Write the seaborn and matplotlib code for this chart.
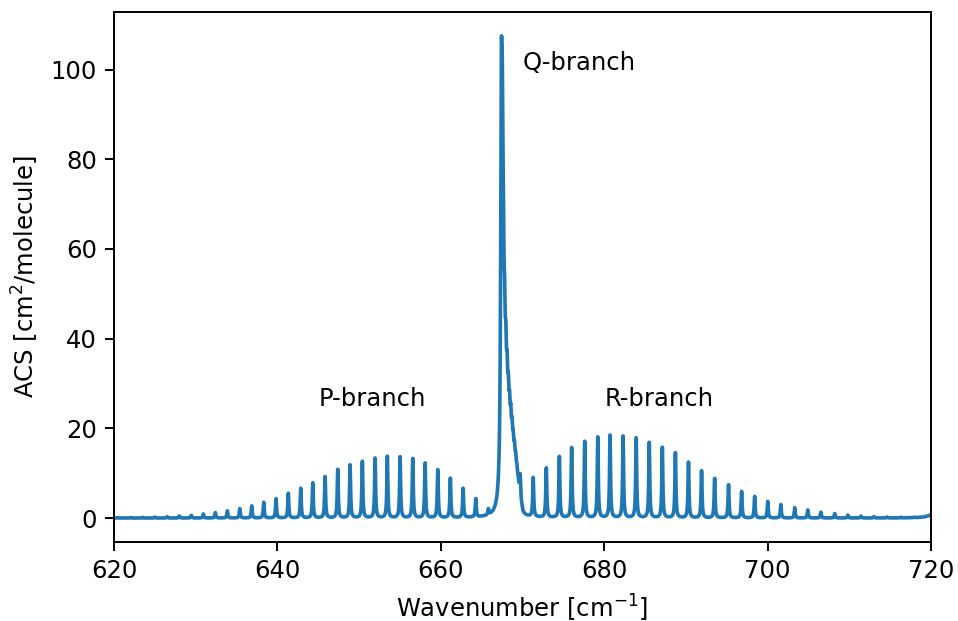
import numpy as np
import pandas as pd
import matplotlib
matplotlib.use("Agg")
import matplotlib.pyplot as plt
import seaborn as sns

# ---- data (line centres [cm-1] and peak heights) ----
p_centers = [665.81, 664.27, 662.72, 661.16, 659.62, 658.07, 656.56, 655.01,
             653.45, 651.95, 650.39, 648.89, 647.38, 645.83, 644.32, 642.85,
             641.33, 639.83, 638.32, 636.85, 635.39, 633.87, 632.40, 630.93,
             629.46, 627.99, 626.50, 625.00, 623.50, 622.00, 620.50]
p_heights = [1.3, 4.1, 6.5, 8.8, 10.7, 12.2, 13.2, 13.6,
             13.7, 13.3, 12.6, 11.8, 10.8, 9.2, 7.8, 6.6,
             5.5, 4.3, 3.5, 2.7, 2.1, 1.6, 1.2, 0.9,
             0.6, 0.45, 0.3, 0.2, 0.15, 0.1, 0.07]

q_centers = [667.40, 667.52, 667.65, 667.80, 667.95, 668.10, 668.25, 668.40,
             668.55, 668.70, 668.85, 669.00, 669.15, 669.30, 669.45, 669.60,
             669.75, 669.90]
q_heights = [75.0, 54.0, 32.0, 24.0, 20.0, 17.0, 15.0, 13.0,
             12.0, 10.5, 9.0, 8.0, 7.0, 5.5, 4.0, 2.5,
             1.5, 0.8]

r_centers = [669.7, 671.3, 672.9, 674.5, 676.0, 677.6, 679.2, 680.7,
             682.3, 683.9, 685.5, 687.1, 688.7, 690.3, 691.9, 693.5,
             695.2, 696.8, 698.4, 700.0, 701.6, 703.3, 704.9, 706.5,
             708.2, 709.8, 711.4, 713.0, 714.6, 716.3, 717.9, 719.5]
r_heights = [5.0, 8.7, 11.0, 13.6, 15.6, 17.0, 18.0, 18.4,
             18.2, 17.8, 16.8, 15.7, 14.5, 12.4, 10.5, 8.8,
             7.4, 5.9, 4.8, 3.7, 3.0, 2.3, 1.8, 1.3,
             1.0, 0.65, 0.45, 0.3, 0.2, 0.13, 0.08, 0.05]

edge_centers = [721.0]
edge_heights = [6.0]

labels = {"Q-branch": (670, 100), "P-branch": (645, 25), "R-branch": (680, 25)}

# ---- build spectrum (Lorentzian line profiles) ----
nu = np.linspace(620, 720, 10001)


def lorentz(centers, heights, gamma):
    c = np.asarray(centers)[:, None]
    h = np.asarray(heights)[:, None]
    return (h * gamma**2 / ((nu[None, :] - c) ** 2 + gamma**2)).sum(axis=0)


acs = (lorentz(p_centers, p_heights, 0.07)
       + lorentz(q_centers, q_heights, 0.10)
       + lorentz(r_centers, r_heights, 0.07)
       + lorentz(edge_centers, edge_heights, 0.4))

df = pd.DataFrame({"Wavenumber": nu, "ACS": acs})

# ---- plot ----
DPI = 175
fig, ax = plt.subplots(figsize=(958 / DPI, 621 / DPI), dpi=DPI)
sns.lineplot(data=df, x="Wavenumber", y="ACS", ax=ax, estimator=None,
             color="#1f77b4", linewidth=1.5)
ax.set_xlim(620, 720)
ax.set_xlabel("Wavenumber [cm$^{-1}$]")
ax.set_ylabel("ACS [cm$^2$/molecule]")
for txt, (x, y) in labels.items():
    ax.text(x, y, txt)

fig.subplots_adjust(left=0.119, right=0.972, bottom=0.127, top=0.981)
fig.savefig("out.png", dpi=DPI)
